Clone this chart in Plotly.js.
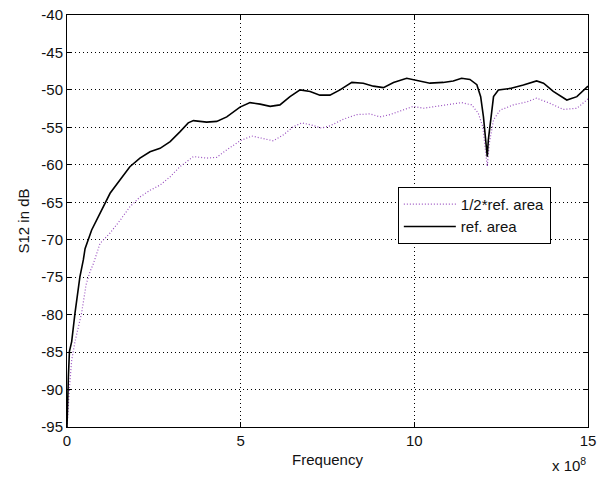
<!DOCTYPE html>
<html><head><meta charset="utf-8">
<script src="https://cdn.plot.ly/plotly-3.0.1.min.js"></script>
<style>html,body{margin:0;padding:0;background:#fff}</style>
</head><body><div id="chart" style="width:600px;height:477px"></div>
<script>
// Frequency in units of 1e8 Hz
const freqRef = [0.0, 0.01, 0.04, 0.07, 0.135, 0.23, 0.37, 0.47, 0.52, 0.71, 0.95, 1.24, 1.53, 1.81, 2.1, 2.39, 2.68, 2.97, 3.25, 3.49, 3.64, 4.02, 4.31, 4.6, 4.98, 5.27, 5.56, 5.85, 6.13, 6.42, 6.71, 7.0, 7.28, 7.57, 7.86, 8.2, 8.53, 8.82, 9.11, 9.4, 9.78, 10.16, 10.45, 10.83, 11.12, 11.36, 11.6, 11.8, 11.91, 11.99, 12.04, 12.08, 12.1, 12.13, 12.2, 12.28, 12.42, 12.76, 13.14, 13.52, 13.72, 14.0, 14.39, 14.68, 15.0];
const s12Ref = [-95, -92, -88.3, -84.9, -83.6, -79.8, -75, -72.7, -71.2, -68.7, -66.5, -63.8, -62.0, -60.25, -59.1, -58.25, -57.8, -56.9, -55.6, -54.4, -54.1, -54.3, -54.2, -53.6, -52.3, -51.7, -51.9, -52.2, -52.0, -50.9, -50.0, -50.2, -50.7, -50.7, -50.0, -49.0, -49.1, -49.5, -49.7, -49.0, -48.45, -48.8, -49.1, -49.0, -48.8, -48.45, -48.6, -49.3, -50.9, -53.6, -56.2, -58.7, -58.9, -56.7, -53.6, -50.9, -50.0, -49.8, -49.35, -48.8, -49.1, -50.2, -51.35, -50.9, -49.5];
const freqHalf = [0.0, 0.01, 0.07, 0.135, 0.23, 0.42, 0.55, 0.66, 0.76, 0.95, 1.24, 1.53, 1.81, 2.1, 2.39, 2.68, 2.97, 3.25, 3.64, 4.02, 4.31, 4.6, 4.98, 5.32, 5.65, 5.94, 6.23, 6.52, 6.76, 7.05, 7.33, 7.57, 7.96, 8.34, 8.72, 9.01, 9.3, 9.68, 9.97, 10.26, 10.64, 11.03, 11.36, 11.65, 11.84, 11.97, 12.04, 12.08, 12.1, 12.16, 12.28, 12.47, 12.85, 13.24, 13.52, 13.91, 14.29, 14.68, 14.96, 15.0];
const s12Half = [-95, -94, -89.8, -86.1, -83.6, -79.8, -76.0, -74.3, -73.2, -70.5, -69.1, -67.4, -65.6, -64.3, -63.4, -62.7, -61.6, -60.25, -58.9, -59.1, -59.0, -58.0, -56.8, -56.15, -56.5, -56.8, -56.0, -54.9, -54.4, -54.7, -55.1, -54.8, -53.9, -53.3, -53.2, -53.6, -53.3, -52.7, -52.2, -52.45, -52.2, -52.0, -51.7, -52.0, -53.1, -54.9, -57.6, -59.4, -60.2, -57.1, -54.0, -52.7, -52.0, -51.6, -51.1, -51.8, -52.6, -52.45, -51.25, -51.2];
const seriesNames = ["1/2*ref. area", "ref. area"];
const xTicks = [0, 5, 10, 15];
const yTicks = [-95, -90, -85, -80, -75, -70, -65, -60, -55, -50, -45, -40];

const FONT = 'Liberation Sans, Arial, sans-serif';
const traces = [
  {x: freqHalf, y: s12Half, name: seriesNames[0], mode: 'lines',
   line: {color: '#9a50c0', width: 1.2, dash: '1px,2px'}},
  {x: freqRef, y: s12Ref, name: seriesNames[1], mode: 'lines',
   line: {color: '#000000', width: 1.6}}
];
const axisCommon = {
  showline: true, linecolor: '#000', linewidth: 1, mirror: 'ticks',
  ticks: 'inside', ticklen: 5, tickcolor: '#000',
  showgrid: true, gridcolor: '#000', griddash: '1px,3px', gridwidth: 1,
  zeroline: false, tickfont: {family: FONT, size: 15, color: '#111'}
};
const layout = {
  width: 600, height: 477,
  margin: {l: 67, r: 12, t: 15, b: 50},
  paper_bgcolor: '#fff', plot_bgcolor: '#fff',
  font: {family: FONT, size: 15, color: '#111'},
  showlegend: true,
  legend: {x: 0.635, y: 0.583, xanchor: 'left', yanchor: 'top',
    bordercolor: '#000', borderwidth: 1, bgcolor: '#fff', itemwidth: 52,
    font: {family: FONT, size: 15, color: '#111'}, tracegroupgap: 0},
  xaxis: Object.assign({}, axisCommon, {range: [0, 15], tickvals: xTicks, ticktext: xTicks.map(String),
    title: {text: 'Frequency', standoff: 6, font: {family: FONT, size: 15, color: '#111'}}}),
  yaxis: Object.assign({}, axisCommon, {range: [-95, -40], tickvals: yTicks, ticktext: yTicks.map(String),
    title: {text: 'S12 in dB', standoff: 8, font: {family: FONT, size: 15, color: '#111'}}}),
  annotations: [{xref: 'paper', yref: 'paper', x: 1.0, y: -0.062, xanchor: 'right', yanchor: 'top',
    text: 'x 10<sup>8</sup>', showarrow: false, font: {family: FONT, size: 15, color: '#111'}}]
};
Plotly.newPlot('chart', traces, layout, {displayModeBar: false, staticPlot: true});
</script></body></html>
